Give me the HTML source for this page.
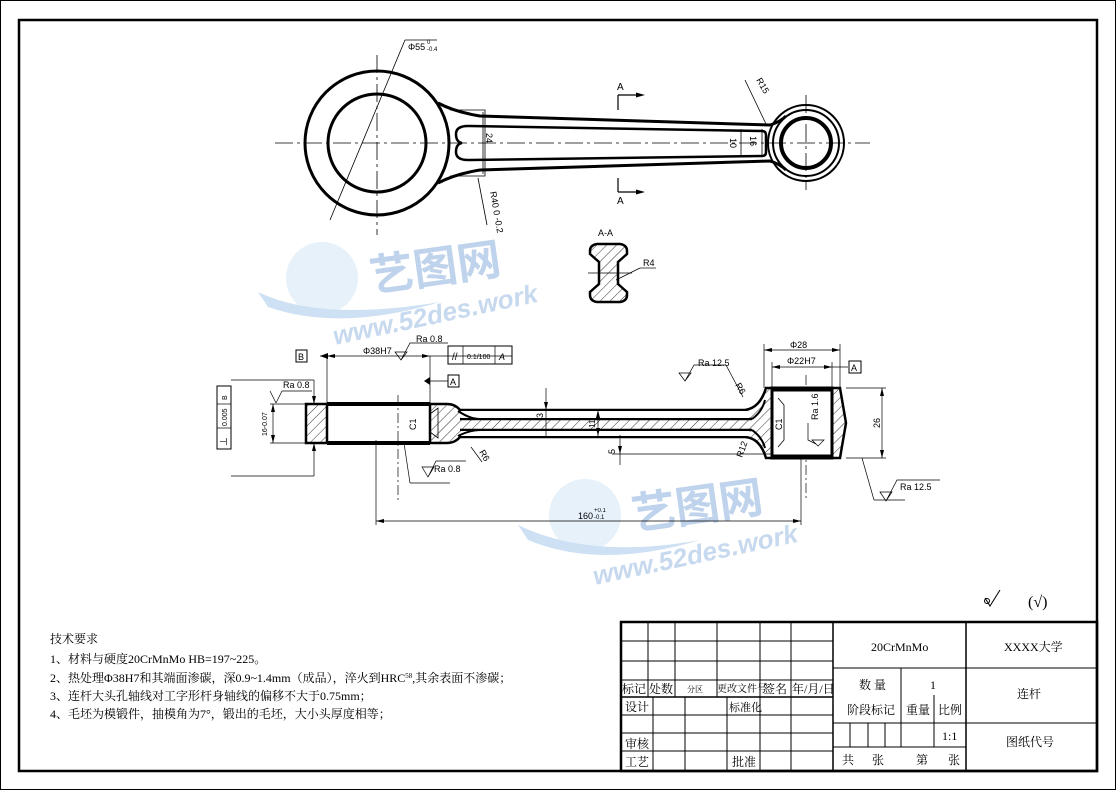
<!DOCTYPE html>
<html><head><meta charset="utf-8"><style>
html,body{margin:0;padding:0;background:#fff;}
svg{display:block;}
text{font-family:"Liberation Sans","Noto Sans CJK SC",sans-serif;fill:#000;}
.cn{font-family:"Liberation Serif","Noto Serif CJK SC","Noto Sans CJK SC",serif;}
</style></head><body>
<svg width="1116" height="790" viewBox="0 0 1116 790" xmlns="http://www.w3.org/2000/svg">
<defs>
<pattern id="h" width="7" height="7" patternUnits="userSpaceOnUse" patternTransform="rotate(45)">
<line x1="0" y1="0" x2="0" y2="7" stroke="#000" stroke-width="0.8"/></pattern>
</defs>
<rect x="0.5" y="0.5" width="1115" height="789" fill="#fff" stroke="#000" stroke-width="1"/>
<rect x="19" y="20" width="1078" height="751" fill="none" stroke="#000" stroke-width="2.5"/>

<!-- watermark -->
<g opacity="0.5">
<ellipse cx="322" cy="278" rx="36" ry="36" fill="#cfe3f5"/>
<path d="M258 292 Q320 322 440 302 Q340 332 268 307 Z" fill="#9cc3e8"/>
<text x="372" y="292" font-size="44" style="fill:#7fa6d8" transform="rotate(-8 372 292)" font-weight="bold">艺图网</text>
<text x="335" y="345" font-size="26" style="fill:#8fb2de" transform="rotate(-12 335 345)" font-weight="bold" font-style="italic">www.52des.work</text>
<ellipse cx="585" cy="515" rx="36" ry="36" fill="#cfe3f5"/>
<path d="M518 525 Q590 560 700 540 Q600 570 528 540 Z" fill="#9cc3e8"/>
<text x="634" y="530" font-size="44" style="fill:#7fa6d8" transform="rotate(-8 634 530)" font-weight="bold">艺图网</text>
<text x="595" y="585" font-size="26" style="fill:#8fb2de" transform="rotate(-12 595 585)" font-weight="bold" font-style="italic">www.52des.work</text>
</g>

<g fill="none" stroke="#000">
<line x1="275" y1="143" x2="870" y2="143" stroke-width="0.8" stroke-dasharray="18,4,3,4"/>
<line x1="377" y1="55" x2="377" y2="235" stroke-width="0.8" stroke-dasharray="18,4,3,4"/>
<line x1="806" y1="95" x2="806" y2="190" stroke-width="0.8" stroke-dasharray="18,4,3,4"/>
<circle cx="377" cy="143" r="72" stroke-width="3"/>
<circle cx="377" cy="143" r="49" stroke-width="3"/>
<path d="M438 103 Q455 112 480 116 L770 125 Q780 122 786 116" stroke-width="3"/>
<path d="M438 183 Q455 174 480 170 L770 161 Q780 164 786 170" stroke-width="3"/>
<path d="M450 110 L485 110 L485 176 L450 176" stroke-width="0.8"/>
<path d="M468 126 L762 131 Q766 131 766 135 L766 152 Q766 156 762 156 L468 160 Q456 160 456 152 Q456 144 462 143 Q456 142 456 134 Q456 126 468 126 Z" stroke-width="2.5"/>
<circle cx="806" cy="143" r="38" stroke-width="2"/>
<circle cx="806" cy="143" r="33" stroke-width="2"/>
<circle cx="806" cy="143" r="25" stroke-width="4"/>
<line x1="330" y1="220" x2="405" y2="40" stroke-width="0.8"/>
<line x1="405" y1="40" x2="437" y2="40" stroke-width="0.8"/>
<line x1="483" y1="112" x2="483" y2="174" stroke-width="0.8"/>
<line x1="741" y1="129" x2="741" y2="157" stroke-width="0.8"/>
<line x1="762" y1="129" x2="762" y2="157" stroke-width="0.8"/>
<line x1="745" y1="80" x2="766" y2="124" stroke-width="0.8"/>
<line x1="478" y1="178" x2="487" y2="225" stroke-width="0.8"/>
<path d="M618 95 L618 110 M618 95 L640 95 M618 192 L618 178 M618 192 L640 192" stroke-width="1.2"/>
</g>
<polygon points="645,95 636,92.5 636,97.5"/>
<polygon points="645,192 636,189.5 636,194.5"/>
<text x="617" y="90" font-size="10">A</text>
<text x="617" y="204" font-size="10">A</text>
<text x="408" y="50" font-size="9">Φ55</text><text x="427" y="44" font-size="6">0</text><text x="427" y="51" font-size="6">-0.4</text>
<text x="486" y="133" font-size="9" transform="rotate(90 486 133)">24</text>
<text x="730" y="138" font-size="9" transform="rotate(90 730 138)">10</text>
<text x="750" y="136" font-size="9" transform="rotate(90 750 136)">16</text>
<text x="756" y="80" font-size="9" transform="rotate(60 756 80)">R15</text>
<text x="490" y="192" font-size="9" transform="rotate(80 490 192)">R40 0 -0.2</text>

<!-- section A-A -->
<text x="598" y="236" font-size="9">A-A</text>
<path d="M590 251 Q590 245 597 244 L620 244 Q627 245 627 251 L627 254 L618 262 L618 284 L627 292 L627 295 Q627 301 620 302 L597 302 Q590 301 590 295 L590 292 L599 284 L599 262 L590 254 Z" fill="url(#h)" stroke="#000" stroke-width="2.5"/>
<line x1="588" y1="273" x2="632" y2="273" stroke="#000" stroke-width="0.7"/>
<line x1="616" y1="280" x2="640" y2="268" stroke="#000" stroke-width="0.7"/>
<line x1="640" y1="268" x2="656" y2="268" stroke="#000" stroke-width="0.7"/>
<text x="643" y="266" font-size="9">R4</text>

<!-- front view -->
<g fill="none" stroke="#000">
<line x1="398" y1="395" x2="398" y2="500" stroke-width="0.7" stroke-dasharray="10,3,2,3"/>
<line x1="806" y1="375" x2="806" y2="500" stroke-width="0.7" stroke-dasharray="10,3,2,3"/>
</g>
<rect x="306" y="404" width="21" height="39" fill="url(#h)" stroke="#000" stroke-width="2.5"/>
<line x1="327" y1="404" x2="430" y2="404" stroke="#000" stroke-width="4"/>
<line x1="327" y1="443" x2="430" y2="443" stroke="#000" stroke-width="4"/>
<path d="M430 404 L447 404 Q455 404 460 410 L745 410 Q760 408 766 388 L772 388 L772 458 L766 458 Q760 438 745 437 L460 437 Q455 443 447 443 L430 443 Z" fill="url(#h)" stroke="#000" stroke-width="2.5"/>
<path d="M460 419 L752 419 M460 430 L752 430" stroke="#000" stroke-width="2.5"/>
<rect x="461" y="411" width="288" height="7" fill="#fff"/>
<rect x="461" y="431" width="288" height="5" fill="#fff"/>
<path d="M458 411 Q470 419 480 419 M458 436 Q470 430 480 430 M752 419 Q762 412 765 400 M752 430 Q762 437 765 448" stroke="#000" stroke-width="2" fill="none"/>
<path d="M430 414 L438 408 L438 438 L430 432" stroke="#000" stroke-width="0.8" fill="none"/>
<rect x="772" y="388" width="60" height="70" fill="#fff" stroke="#000" stroke-width="3"/>
<line x1="772" y1="389" x2="832" y2="389" stroke="#000" stroke-width="5"/>
<line x1="772" y1="457" x2="832" y2="457" stroke="#000" stroke-width="5"/>
<path d="M832 388 L840 388 L846 423 L840 458 L832 458 Z" fill="url(#h)" stroke="#000" stroke-width="2.5"/>
<path d="M778 398 L784 405 L784 440 L778 447" stroke="#000" stroke-width="0.8" fill="none"/>
<g stroke="#000" stroke-width="0.7" fill="none">
<line x1="320" y1="356" x2="512" y2="356"/>
<line x1="327" y1="356" x2="327" y2="404"/>
<line x1="430" y1="356" x2="430" y2="404"/>
<line x1="430" y1="381" x2="448" y2="381"/>
<line x1="231" y1="380" x2="314" y2="380"/><line x1="314" y1="380" x2="314" y2="404"/>
<line x1="231" y1="476" x2="314" y2="476"/><line x1="314" y1="476" x2="314" y2="443"/>
<rect x="217" y="386" width="14" height="63" stroke-width="1"/>
<line x1="217" y1="404" x2="231" y2="404"/><line x1="217" y1="428" x2="231" y2="428"/>
<line x1="270" y1="404" x2="306" y2="404"/><line x1="270" y1="443" x2="306" y2="443"/>
<line x1="273" y1="404" x2="273" y2="443"/>
<line x1="270" y1="391" x2="276" y2="403"/><line x1="276" y1="403" x2="282" y2="391"/><line x1="282" y1="391" x2="312" y2="391"/>
<line x1="404" y1="443" x2="410" y2="483"/><line x1="410" y1="483" x2="450" y2="483"/>
<path d="M422 467 L428 477 L434 467 Z M428 477 L436 461 L466 461"/>
<path d="M395 352 L401 360 L407 352 Z M401 360 L410 343 L448 343"/>
<rect x="448" y="346" width="64" height="18" stroke-width="1"/>
<line x1="463" y1="346" x2="463" y2="364"/><line x1="495" y1="346" x2="495" y2="364"/>
<line x1="376" y1="440" x2="376" y2="525"/>
<line x1="801" y1="458" x2="801" y2="525"/>
<line x1="376" y1="521" x2="801" y2="521"/>
<line x1="546" y1="388" x2="546" y2="436"/>
<line x1="598" y1="410" x2="598" y2="436"/>
<line x1="612" y1="454" x2="772" y2="454"/>
<line x1="620" y1="435" x2="620" y2="465"/>
<line x1="764" y1="344" x2="764" y2="388"/><line x1="840" y1="344" x2="840" y2="388"/>
<line x1="764" y1="350" x2="840" y2="350"/>
<line x1="772" y1="362" x2="772" y2="388"/><line x1="832" y1="362" x2="832" y2="388"/>
<line x1="772" y1="367" x2="848" y2="367"/>
<line x1="846" y1="388" x2="886" y2="388"/><line x1="846" y1="458" x2="886" y2="458"/>
<line x1="882" y1="388" x2="882" y2="458"/>
<line x1="862" y1="458" x2="874" y2="500"/><line x1="874" y1="500" x2="905" y2="500"/>
<path d="M880 492 L886 501 L892 492 Z M886 501 L897 480 L940 480"/>
<path d="M679 373 L685 381 L691 373 Z M685 381 L694 365 L726 365 L743 397"/>
<line x1="471" y1="447" x2="482" y2="462"/>
<path d="M808 423 L808 440 L816 444"/>
<path d="M812 440 L818 446 L824 440 Z"/>
</g>
<g fill="#000">
<polygon points="327,356 335,354 335,358"/><polygon points="430,356 422,354 422,358"/>
<polygon points="314,404 312,396 316,396"/><polygon points="314,443 312,451 316,451"/>
<polygon points="273,404 271,412 275,412"/><polygon points="273,443 271,435 275,435"/>
<polygon points="376,521 384,519 384,523"/><polygon points="801,521 793,519 793,523"/>
<polygon points="764,350 772,348 772,352"/><polygon points="840,350 832,348 832,352"/>
<polygon points="772,367 780,365 780,369"/><polygon points="832,367 824,365 824,369"/>
<polygon points="882,388 880,396 884,396"/><polygon points="882,458 880,450 884,450"/>
<polygon points="546,410 544,402 548,402"/><polygon points="598,410 596,418 600,418"/><polygon points="598,436 596,428 600,428"/>
<polygon points="620,454 618,446 622,446"/>
<polygon points="424,381 430,377 430,385"/>
<polygon points="320,356 328,353 328,359"/>
</g>
<rect x="296" y="350" width="11" height="12" fill="#fff" stroke="#000" stroke-width="1"/><text x="298" y="360" font-size="9">B</text>
<rect x="448" y="375" width="11" height="12" fill="#fff" stroke="#000" stroke-width="1"/><text x="450" y="385" font-size="9">A</text>
<rect x="849" y="361" width="12" height="12" fill="#fff" stroke="#000" stroke-width="1"/><text x="851" y="371" font-size="9">A</text>
<text x="363" y="354" font-size="9">Φ38H7</text>
<text x="416" y="342" font-size="9">Ra 0.8</text>
<text x="452" y="360" font-size="10">//</text><text x="467" y="359" font-size="7">0.1/100</text><text x="499" y="360" font-size="9" font-style="italic">A</text>
<text x="283" y="388" font-size="9">Ra 0.8</text>
<text x="434" y="472" font-size="9">Ra 0.8</text>
<text x="698" y="366" font-size="9">Ra 12.5</text>
<text x="900" y="490" font-size="9">Ra 12.5</text>
<text x="790" y="348" font-size="9">Φ28</text>
<text x="787" y="364" font-size="9">Φ22H7</text>
<text x="880" y="428" font-size="9" transform="rotate(-90 880 428)">26</text>
<text x="267" y="436" font-size="7" transform="rotate(-90 267 436)">16-0.07</text>
<text x="227" y="446" font-size="9" transform="rotate(-90 227 446)">⊥</text>
<text x="227" y="426" font-size="7" transform="rotate(-90 227 426)">0.005</text>
<text x="227" y="400" font-size="7" transform="rotate(-90 227 400)">B</text>
<text x="416" y="430" font-size="9" transform="rotate(-90 416 430)">C1</text>
<text x="782" y="430" font-size="9" transform="rotate(-90 782 430)">C1</text>
<text x="818" y="420" font-size="9" transform="rotate(-90 818 420)">Ra 1.6</text>
<text x="543" y="418" font-size="9" transform="rotate(-90 543 418)">3</text>
<text x="595" y="428" font-size="8" transform="rotate(-90 595 428)">11</text>
<text x="615" y="454" font-size="9" transform="rotate(-90 615 454)">5</text>
<text x="735" y="385" font-size="9" transform="rotate(60 735 385)">R6</text>
<text x="479" y="452" font-size="9" transform="rotate(60 479 452)">R6</text>
<text x="742" y="458" font-size="9" transform="rotate(-70 742 458)">R12</text>
<text x="578" y="519" font-size="9">160</text><text x="594" y="512" font-size="6">+0.1</text><text x="594" y="519" font-size="6">-0.1</text>

<path d="M985 598 L990 606 L1000 590" fill="none" stroke="#000" stroke-width="1"/>
<circle cx="987" cy="601" r="2.5" fill="none" stroke="#000"/>
<text x="1028" y="607" font-size="16" class="cn">(√)</text>

<g font-size="12">
<text x="50" y="643" class="cn">技术要求</text>
<text x="50" y="663" class="cn">1、材料与硬度20CrMnMo HB=197~225。</text>
<text x="50" y="682" class="cn">2、热处理Φ38H7和其端面渗碳，深0.9~1.4mm（成品），淬火到HRC<tspan font-size="7" dy="-4">58</tspan><tspan dy="4">,其余表面不渗碳；</tspan></text>
<text x="50" y="700" class="cn">3、连杆大头孔轴线对工字形杆身轴线的偏移不大于0.75mm；</text>
<text x="50" y="718" class="cn">4、毛坯为模锻件，抽模角为7°，锻出的毛坯，大小头厚度相等；</text>
</g>

<g stroke="#000" fill="none" stroke-width="1">
<rect x="621" y="622" width="476" height="149" stroke-width="2.5"/>
<line x1="833" y1="622" x2="833" y2="771" stroke-width="1.5"/>
<line x1="966" y1="622" x2="966" y2="771" stroke-width="1.5"/>
<line x1="621" y1="641" x2="833" y2="641"/><line x1="621" y1="661" x2="833" y2="661"/>
<line x1="621" y1="680" x2="833" y2="680"/><line x1="621" y1="697" x2="833" y2="697" stroke-width="1.5"/>
<line x1="621" y1="715" x2="833" y2="715"/><line x1="621" y1="733" x2="833" y2="733"/><line x1="621" y1="751" x2="833" y2="751"/>
<line x1="648" y1="622" x2="648" y2="697"/><line x1="675" y1="622" x2="675" y2="697"/><line x1="717" y1="622" x2="717" y2="697"/>
<line x1="760" y1="622" x2="760" y2="697"/><line x1="791" y1="622" x2="791" y2="697"/>
<line x1="653" y1="697" x2="653" y2="771"/><line x1="685" y1="697" x2="685" y2="771"/><line x1="727" y1="697" x2="727" y2="771"/>
<line x1="760" y1="697" x2="760" y2="771"/><line x1="791" y1="697" x2="791" y2="771"/>
<line x1="833" y1="668" x2="1097" y2="668"/><line x1="833" y1="723" x2="1097" y2="723"/>
<line x1="833" y1="747" x2="966" y2="747"/>
<line x1="901" y1="668" x2="901" y2="747"/><line x1="934" y1="695" x2="934" y2="747"/>
<line x1="850" y1="723" x2="850" y2="747"/><line x1="868" y1="723" x2="868" y2="747"/><line x1="885" y1="723" x2="885" y2="747"/>
</g>
<g font-size="12">
<text x="871" y="651" class="cn">20CrMnMo</text>
<text x="1004" y="651" class="cn">XXXX大学</text>
<text x="859" y="689" class="cn">数 量</text><text x="930" y="689" class="cn">1</text>
<text x="1017" y="698" class="cn">连杆</text>
<text x="847" y="714" class="cn">阶段标记</text><text x="906" y="714" class="cn">重量</text><text x="938" y="714" class="cn">比例</text>
<text x="942" y="740" class="cn">1:1</text>
<text x="1006" y="746" class="cn">图纸代号</text>
<text x="842" y="764" class="cn">共</text><text x="872" y="764" class="cn">张</text><text x="916" y="764" class="cn">第</text><text x="948" y="764" class="cn">张</text>
<text x="622" y="693" class="cn">标记</text><text x="649" y="693" class="cn">处数</text>
<text x="687" y="692" font-size="8" class="cn">分区</text>
<text x="717" y="692" font-size="10" class="cn">更改文件号</text>
<text x="763" y="693" class="cn">签名</text><text x="792" y="693" class="cn">年/月/日</text>
<text x="625" y="711" class="cn">设计</text><text x="729" y="711" font-size="11" class="cn">标准化</text>
<text x="625" y="748" class="cn">审核</text>
<text x="625" y="766" class="cn">工艺</text><text x="732" y="766" class="cn">批准</text>
</g>
</svg>
</body></html>
